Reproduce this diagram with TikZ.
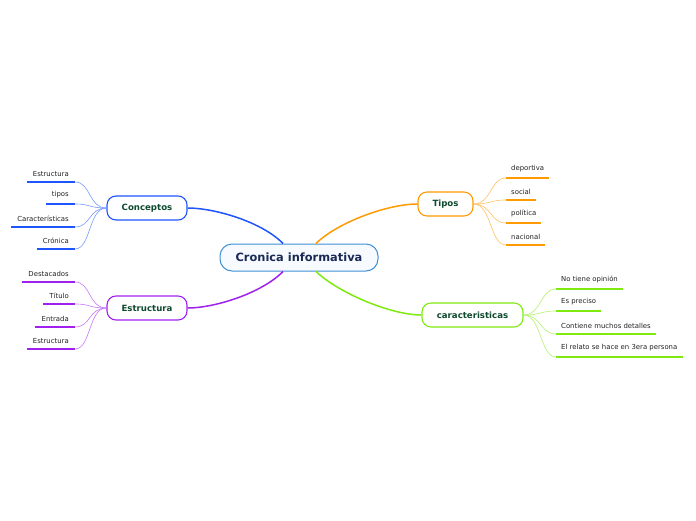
\documentclass[tikz,border=0pt]{standalone}
\usepackage{fontspec}
\setmainfont{DejaVu Sans}
\usetikzlibrary{calc}
\definecolor{cenb}{HTML}{3D8FD6}
\definecolor{cenf}{HTML}{F7FBFF}
\definecolor{cent}{HTML}{1B2A55}
\definecolor{cblue}{HTML}{1E55FF}
\definecolor{cpurp}{HTML}{A020F0}
\definecolor{corng}{HTML}{FF9A00}
\definecolor{cgrn}{HTML}{7FEA10}
\definecolor{ttxt}{HTML}{0E4A2E}
\definecolor{ltxt}{HTML}{222222}
\tikzset{
  topic/.style={draw=#1, line width=1.1pt, rounded corners=9pt, fill=white, text=ttxt,
     font=\fontsize{8.6}{10}\selectfont\bfseries, minimum height=24pt, inner sep=0pt},
  leafL/.style={anchor=south east, inner xsep=6pt, inner ysep=5.5pt, text=ltxt, font=\fontsize{6.9}{8}\selectfont},
  leafR/.style={anchor=south west, inner xsep=5pt, inner ysep=5.5pt, text=ltxt, font=\fontsize{6.9}{8}\selectfont},
  uline/.style={draw=#1, line width=2pt, line cap=butt},
  mainc/.style={draw=#1, line width=1.5pt},
  subc/.style={draw=#1!60, line width=0.6pt},
}
\begin{document}
\begin{tikzpicture}[x=1pt,y=-1pt]
\useasboundingbox (0,0) rectangle (696,520);
% central
\node[draw=cenb, line width=1pt, fill=cenf, rounded corners=12pt, minimum width=158pt, minimum height=27pt,
  text=cent, font=\fontsize{11.4}{13}\selectfont\bfseries] (cen) at (299,257.5) {Cronica informativa};
% topics
\node[topic=cblue, minimum width=80pt] (conc) at (147,208) {Conceptos};
\node[topic=cpurp, minimum width=80pt] (estr) at (147,308) {Estructura};
\node[topic=corng, minimum width=55pt] (tipos) at (445.5,204) {Tipos};
\node[topic=cgrn, minimum width=101pt] (carac) at (472.5,315) {caracteristicas};
% main connectors
\coordinate (cnw) at ($(cen.north)+(-16,0)$);
\coordinate (cne) at ($(cen.north)+(17,0)$);
\coordinate (csw) at ($(cen.south)+(-16,0)$);
\coordinate (cse) at ($(cen.south)+(17,0)$);
\draw[mainc=cblue] (cnw) .. controls (262,222) and (215,208) .. (conc.east);
\draw[mainc=cpurp] (csw) .. controls (262,293) and (215,308) .. (estr.east);
\draw[mainc=corng] (cne) .. controls (338,222) and (388,204) .. (tipos.west);
\draw[mainc=cgrn] (cse) .. controls (340,294) and (392,315) .. (carac.west);
% Conceptos leaves
\node[leafL] (c1) at (75,182) {Estructura};
\node[leafL] (c2) at (75,204) {tipos};
\node[leafL] (c3) at (75,227) {Características};
\node[leafL] (c4) at (75,249) {Crónica};
\foreach \n in {c1,c2,c3,c4}{
  \draw[uline=cblue] (\n.south west) -- (\n.south east);
  \draw[subc=cblue] (conc.west) .. controls +(-18,0) and +(16,0) .. (\n.south east);
}
% Estructura leaves
\node[leafL] (e1) at (75,282) {Destacados};
\node[leafL] (e2) at (75,304) {Título};
\node[leafL] (e3) at (75,327) {Entrada};
\node[leafL] (e4) at (75,349) {Estructura};
\foreach \n in {e1,e2,e3,e4}{
  \draw[uline=cpurp] (\n.south west) -- (\n.south east);
  \draw[subc=cpurp] (estr.west) .. controls +(-18,0) and +(16,0) .. (\n.south east);
}
% Tipos leaves
\node[leafR] (t1) at (506,178) {deportiva};
\node[leafR] (t2) at (506,200) {social};
\node[leafR] (t3) at (506,223) {política};
\node[leafR] (t4) at (506,245) {nacional};
\foreach \n in {t1,t2,t3,t4}{
  \draw[uline=corng] (\n.south west) -- (\n.south east);
  \draw[subc=corng] (tipos.east) .. controls +(18,0) and +(-16,0) .. (\n.south west);
}
% caracteristicas leaves
\node[leafR] (k1) at (556,289) {No tiene opinión};
\node[leafR] (k2) at (556,311) {Es preciso};
\node[leafR] (k3) at (556,334) {Contiene muchos detalles};
\node[leafR] (k4) at (556,357) {El relato se hace en 3era persona};
\foreach \n in {k1,k2,k3,k4}{
  \draw[uline=cgrn] (\n.south west) -- (\n.south east);
  \draw[subc=cgrn] (carac.east) .. controls +(18,0) and +(-16,0) .. (\n.south west);
}
\end{tikzpicture}
\end{document}
